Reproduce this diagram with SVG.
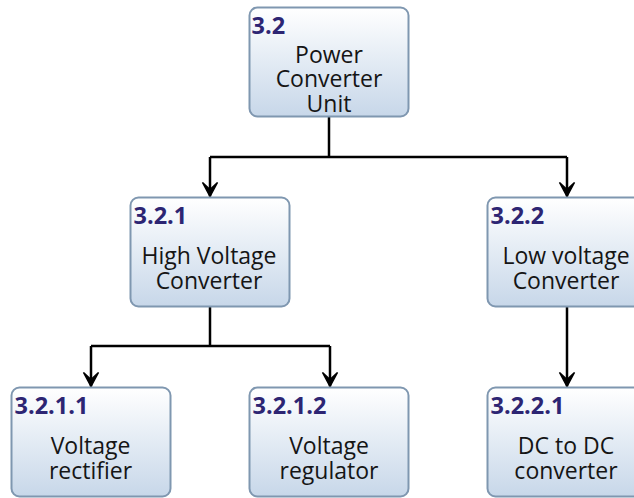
<svg xmlns="http://www.w3.org/2000/svg" width="634" height="498" viewBox="0 0 634 498">
<defs>
<linearGradient id="bg" x1="0" y1="0" x2="0" y2="1">
<stop offset="0" stop-color="#ffffff"/>
<stop offset="1" stop-color="#c7d7e9"/>
</linearGradient>
<marker id="arr" viewBox="-16 -9 18 18" refX="0" refY="0" markerWidth="18" markerHeight="18" markerUnits="userSpaceOnUse" orient="auto">
<path d="M0,0 L-14,-7.5 L-7,0 L-14,7.5 Z" fill="#000" stroke="#000" stroke-width="1.5" stroke-linejoin="miter"/>
</marker>
<style>
.box{fill:url(#bg);stroke:#7f97b0;stroke-width:2}
.id{font-family:"Open Sans","Noto Sans",sans-serif;font-weight:bold;font-size:23.5px;fill:#2d2573}
.t{font-family:"Open Sans","Noto Sans",sans-serif;font-size:23px;fill:#151515;text-anchor:middle}
.c{fill:none;stroke:#000;stroke-width:2.5}
</style>
</defs>
<rect width="634" height="498" fill="#ffffff"/>
<g id="connectors">
<path class="c" d="M329,117 V157"/>
<path class="c" d="M210,157 H567"/>
<path class="c" d="M210,157 V196.5" marker-end="url(#arr)"/>
<path class="c" d="M567,157 V196.5" marker-end="url(#arr)"/>
<path class="c" d="M210,307 V346"/>
<path class="c" d="M91,346 H330"/>
<path class="c" d="M91,346 V386.5" marker-end="url(#arr)"/>
<path class="c" d="M330,346 V386.5" marker-end="url(#arr)"/>
<path class="c" d="M567,307 V386.5" marker-end="url(#arr)"/>
</g>
<g id="n3.2">
<rect class="box" x="249.5" y="7.5" width="159" height="109" rx="8"/>
<text class="id" x="251.5" y="33.5">3.2</text>
<text class="t"><tspan x="329" y="62.5">Power</tspan><tspan x="329" y="87">Converter</tspan><tspan x="329" y="111.5">Unit</tspan></text>
</g>
<g id="n3.2.1">
<rect class="box" x="130.5" y="197.5" width="159" height="109" rx="8"/>
<text class="id" x="133.5" y="224">3.2.1</text>
<text class="t"><tspan x="209" y="264">High Voltage</tspan><tspan x="209" y="288.5">Converter</tspan></text>
</g>
<g id="n3.2.2">
<rect class="box" x="487.5" y="197.5" width="159" height="109" rx="8"/>
<text class="id" x="490.5" y="224">3.2.2</text>
<text class="t"><tspan x="566" y="264">Low voltage</tspan><tspan x="566" y="288.5">Converter</tspan></text>
</g>
<g id="n3.2.1.1">
<rect class="box" x="11.5" y="387.5" width="159" height="109" rx="8"/>
<text class="id" x="14.5" y="414">3.2.1.1</text>
<text class="t"><tspan x="90.5" y="454">Voltage</tspan><tspan x="90.5" y="478.5">rectifier</tspan></text>
</g>
<g id="n3.2.1.2">
<rect class="box" x="249.5" y="387.5" width="159" height="109" rx="8"/>
<text class="id" x="252.5" y="414">3.2.1.2</text>
<text class="t"><tspan x="329" y="454">Voltage</tspan><tspan x="329" y="478.5">regulator</tspan></text>
</g>
<g id="n3.2.2.1">
<rect class="box" x="487.5" y="387.5" width="159" height="109" rx="8"/>
<text class="id" x="490.5" y="414">3.2.2.1</text>
<text class="t"><tspan x="566" y="454">DC to DC</tspan><tspan x="566" y="478.5">converter</tspan></text>
</g>
</svg>
